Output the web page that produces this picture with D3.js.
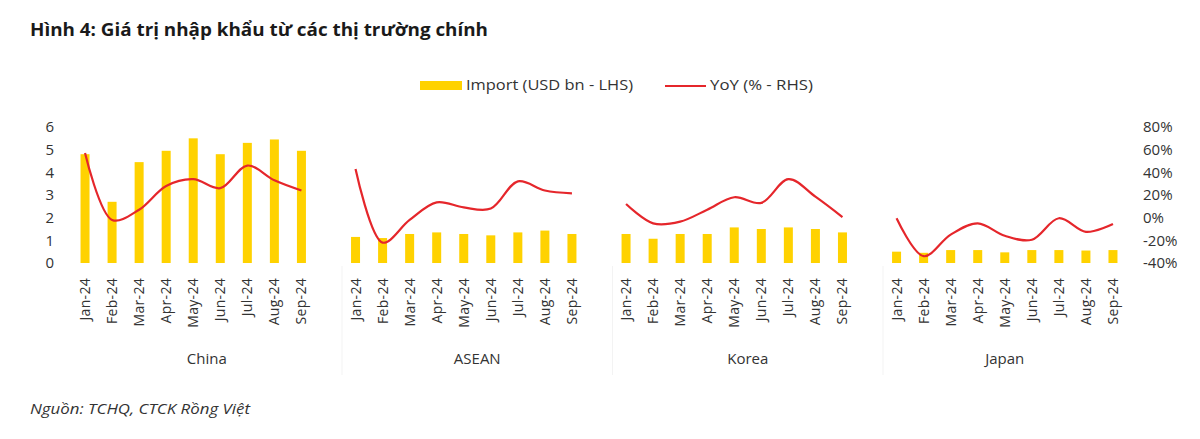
<!DOCTYPE html>
<html><head><meta charset="utf-8">
<script src="https://cdn.jsdelivr.net/npm/d3@7"></script>
<style>
html,body{margin:0;padding:0;background:#fff;}
svg{display:block;font-family:"Open Sans","Noto Sans",sans-serif;}
</style></head>
<body><svg id="chart" width="1200" height="439"></svg>
<script>
const groups = ["China", "ASEAN", "Korea", "Japan"];
const months = ["Jan-24","Feb-24","Mar-24","Apr-24","May-24","Jun-24","Jul-24","Aug-24","Sep-24"];
const importChina = [4.8, 2.7, 4.45, 4.95, 5.5, 4.8, 5.3, 5.45, 4.95];
const importASEAN = [1.15, 1.1, 1.28, 1.35, 1.28, 1.22, 1.35, 1.43, 1.28];
const importKorea = [1.28, 1.07, 1.28, 1.28, 1.57, 1.5, 1.57, 1.5, 1.35];
const importJapan = [0.5, 0.45, 0.57, 0.57, 0.47, 0.57, 0.57, 0.55, 0.57];
const yoyChina = [57, -2, 7, 28, 34, 26, 46, 33, 24];
const yoyASEAN = [43, -22, -2, 13.5, 9, 8, 32, 24, 21.5];
const yoyKorea = [12, -5, -3.5, 7, 18, 13, 34, 18.5, 0.5];
const yoyJapan = [-0.5, -34, -15, -5, -16, -19.5, -0.5, -12.5, -5.5];
const leftTicks = [0, 1, 2, 3, 4, 5, 6];
const rightTicks = [-40, -20, 0, 20, 40, 60, 80];
const legendLabels = ["Import (USD bn - LHS)", "YoY (% - RHS)"];
const title = "Hình 4: Giá trị nhập khẩu từ các thị trường chính";
const source = "Nguồn: TCHQ, CTCK Rồng Việt";

const importData = [importChina, importASEAN, importKorea, importJapan];
const yoyData = [yoyChina, yoyASEAN, yoyKorea, yoyJapan];

// category slots: each group's months, plus a blank slot between groups
const slots = [];
groups.forEach((g, gi) => {
  months.forEach(m => slots.push(g + "|" + m));
  if (gi < groups.length - 1) slots.push(g + "|blank");
});

const svg = d3.select("#chart");
const x = d3.scaleBand().domain(slots).range([71.5, 1126.5]).paddingInner(0.67).paddingOuter(0.335);
const yL = d3.scaleLinear().domain([0, 6]).range([263, 127]);
const yR = d3.scaleLinear().domain([-40, 80]).range([263, 127]);
const cx = k => x(k) + x.bandwidth() / 2;

const barColor = "#ffd200";
const lineColor = "#e5262b";
const textColor = "#333";

// title
svg.append("text").attr("x", 30).attr("y", 36).attr("font-size", 18).attr("font-weight", 700)
  .attr("fill", "#1a1a1a").attr("textLength", 458).attr("lengthAdjust", "spacingAndGlyphs").text(title);

// legend
svg.append("rect").attr("x", 420).attr("y", 81).attr("width", 42).attr("height", 9).attr("fill", barColor);
svg.append("text").attr("x", 466).attr("y", 90).attr("font-size", 14.5).attr("fill", textColor)
  .attr("textLength", 167).attr("lengthAdjust", "spacingAndGlyphs").text(legendLabels[0]);
svg.append("line").attr("x1", 665).attr("x2", 706).attr("y1", 86).attr("y2", 86).attr("stroke", lineColor).attr("stroke-width", 2);
svg.append("text").attr("x", 710).attr("y", 90).attr("font-size", 14.5).attr("fill", textColor)
  .attr("textLength", 103).attr("lengthAdjust", "spacingAndGlyphs").text(legendLabels[1]);

// left axis
const gL = svg.append("g").attr("transform", "translate(60,0)")
  .call(d3.axisLeft(yL).tickValues(leftTicks).tickSize(0).tickPadding(6).tickFormat(d3.format("d")));
gL.select(".domain").remove();
gL.selectAll("text").attr("font-size", 15).attr("fill", textColor).attr("font-family", "'Open Sans', sans-serif");

// right axis
const gR = svg.append("g").attr("transform", "translate(1137,0)")
  .call(d3.axisRight(yR).tickValues(rightTicks).tickSize(0).tickPadding(6).tickFormat(d => d + "%"));
gR.select(".domain").remove();
gR.selectAll("text").attr("font-size", 15).attr("fill", textColor).attr("font-family", "'Open Sans', sans-serif");

// group separators
const sepKeys = groups.slice(0, -1).map(g => g + "|blank");
svg.selectAll("line.sep").data(sepKeys).join("line").attr("class", "sep")
  .attr("x1", k => x(k) + x.bandwidth() / 2 + x.step() / 2)
  .attr("x2", k => x(k) + x.bandwidth() / 2 + x.step() / 2)
  .attr("y1", 266).attr("y2", 375).attr("stroke", "#f3f3f3").attr("stroke-width", 1);

// bars
const barW = 9;
groups.forEach((g, gi) => {
  svg.append("g").selectAll("rect").data(importData[gi]).join("rect")
    .attr("x", (d, i) => cx(g + "|" + months[i]) - barW / 2)
    .attr("width", barW)
    .attr("y", d => yL(d))
    .attr("height", d => yL(0) - yL(d))
    .attr("fill", barColor);
});

// lines
const line = d3.line().curve(d3.curveCatmullRom.alpha(0.5));
groups.forEach((g, gi) => {
  const pts = yoyData[gi].map((d, i) => [cx(g + "|" + months[i]), yR(d)]);
  svg.append("path").attr("d", line(pts)).attr("fill", "none")
    .attr("stroke", lineColor).attr("stroke-width", 2.2).attr("stroke-linejoin", "round");
});

// category labels
groups.forEach(g => {
  svg.append("g").selectAll("text").data(months).join("text")
    .attr("transform", m => `translate(${cx(g + "|" + m) + 5},278) rotate(-90)`)
    .attr("text-anchor", "end").attr("font-size", 14).attr("letter-spacing", 0.3)
    .attr("fill", textColor).text(m => m);
});

// group labels
groups.forEach(g => {
  const first = cx(g + "|" + months[0]);
  const last = g === groups[groups.length - 1] ? cx(g + "|" + months[8]) : cx(g + "|blank");
  svg.append("text").attr("x", (first + last) / 2).attr("y", 364)
    .attr("text-anchor", "middle").attr("font-size", 15).attr("fill", textColor).text(g);
});

// source
svg.append("text").attr("x", 30).attr("y", 414).attr("font-size", 14).attr("font-style", "italic")
  .attr("fill", textColor).attr("textLength", 220).attr("lengthAdjust", "spacingAndGlyphs").text(source);
</script></body></html>
